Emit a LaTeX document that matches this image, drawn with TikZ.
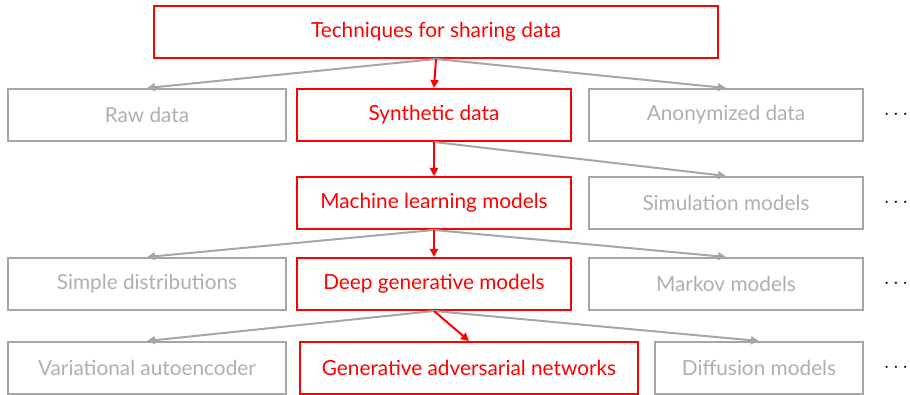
\documentclass[tikz,border=0pt]{standalone}
\usepackage{fontspec}
\setmainfont{Lato}
\usetikzlibrary{arrows.meta}

\definecolor{lgray}{HTML}{A6A6A6}
\definecolor{hred}{HTML}{FF0000}

\begin{document}
\begin{tikzpicture}[
x=1pt, y=-1pt,
font=\fontsize{20.8}{24}\selectfont
]

\tikzstyle{g} = [draw=lgray, line width=2pt, text=lgray!90, shape=rectangle, minimum height=52pt, minimum width=276pt, inner sep=0pt]
\tikzstyle{h} = [g, draw=hred, text=hred]
\tikzstyle{ga} = [draw=lgray, line width=2pt, -{Triangle[length=8pt,width=8pt]}]
\tikzstyle{ra} = [ga, draw=hred, fill=hred]

\useasboundingbox (0,0) rectangle (910,395);

% level 0
\node[h, minimum width=564pt] (share) at (436,32) {Techniques for sharing data};

% level 1
\node[g, minimum width=278pt] (raw) at (147,115) {Raw data};
\node[h, minimum width=274pt] (syn) at (434,115) {Synthetic data};
\node[g, minimum width=274pt] (anon) at (726,115) {Anonymized data};
\node (dots1) at (896,115) {$\cdots$};

% level 2
\node[h, minimum width=274pt] (ml) at (434,203) {Machine learning models};
\node[g, minimum width=274pt] (sim) at (726,203) {Simulation models};
\node (dots2) at (896,203) {$\cdots$};

% level 3
\node[g, minimum width=278pt] (simple) at (147,284) {Simple distributions};
\node[h, minimum width=274pt] (deep) at (434,284) {Deep generative models};
\node[g, minimum width=274pt] (markov) at (726,284) {Markov models};
\node (dots3) at (896,284) {$\cdots$};

% level 4
\node[g, minimum width=278pt] (vae) at (147,368) {Variational autoencoder};
\node[h, minimum width=338pt] (gan) at (469,368) {Generative adversarial networks};
\node[g, minimum width=208pt] (diff) at (759,368) {Diffusion models};
\node (dots4) at (896,368) {$\cdots$};

\draw[ga] (share.south) -- (raw.north);
\draw[ga] (share.south) -- (anon.north);
\draw[ra] (share.south) -- (syn.north);

\draw[ga] (syn.south) -- (sim.north);
\draw[ra] (syn.south) -- (ml.north);

\draw[ga] (ml.south) -- (simple.north);
\draw[ga] (ml.south) -- (markov.north);
\draw[ra] (ml.south) -- (deep.north);

\draw[ga] (deep.south) -- (vae.north);
\draw[ga] (deep.south) -- (diff.north);
\draw[ra] (deep.south) -- (gan.north);

\end{tikzpicture}
\end{document}
